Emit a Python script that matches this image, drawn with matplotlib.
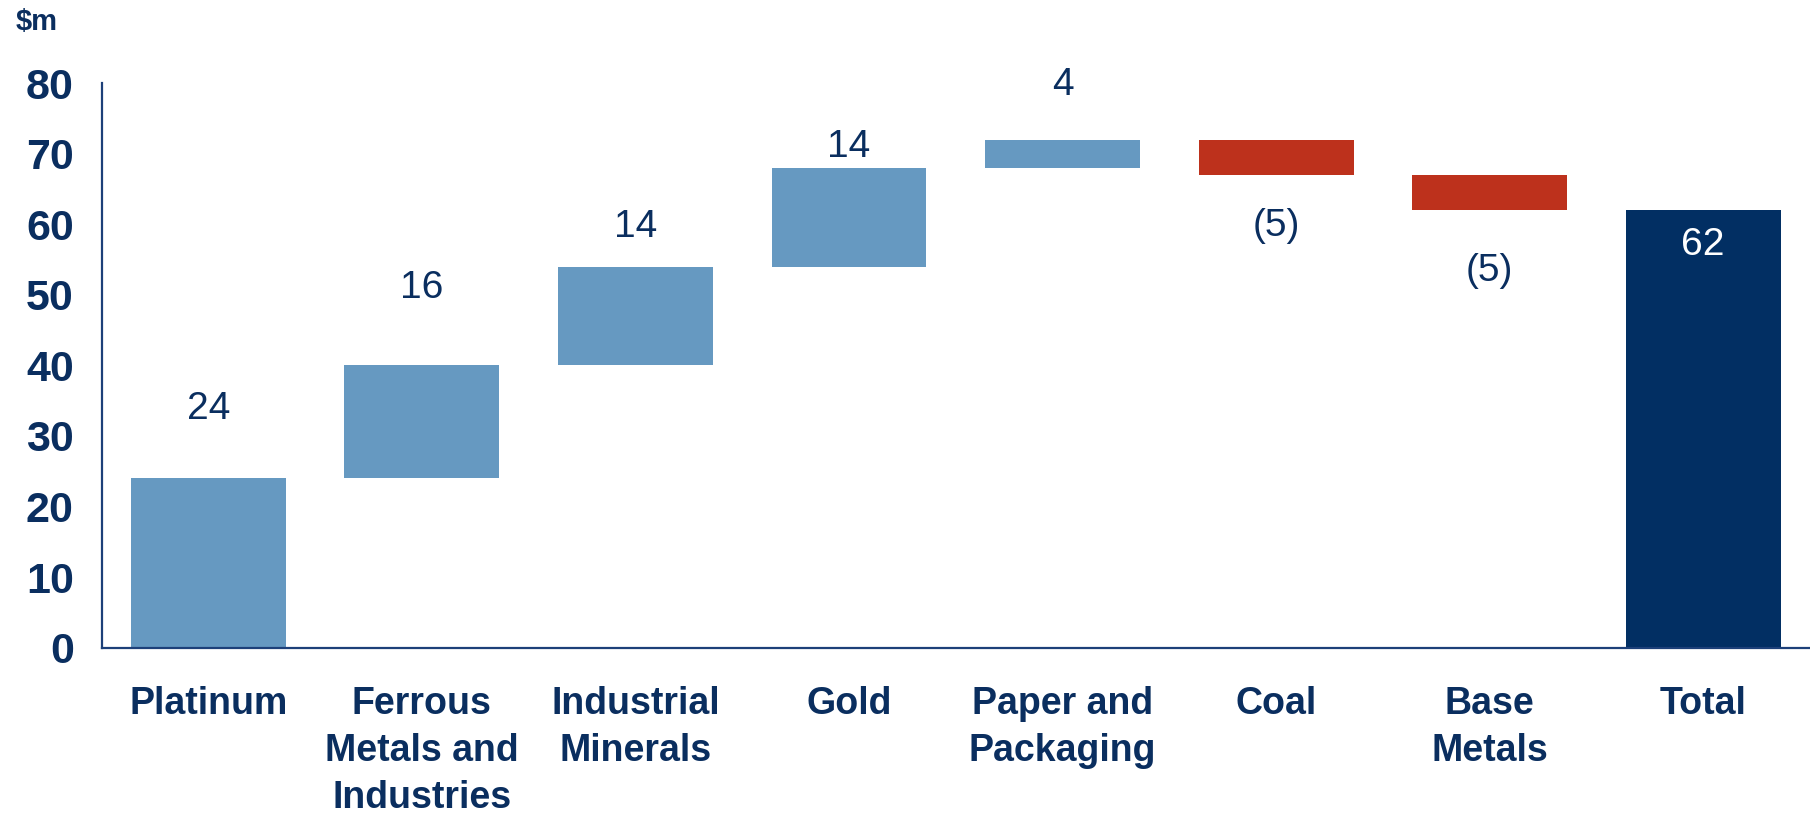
#!/usr/bin/env python3
"""Waterfall of $m contribution by business unit."""

import matplotlib

matplotlib.use("Agg")
import matplotlib.pyplot as plt
import numpy as np

categories = [
    "Platinum",
    "Ferrous\nMetals and\nIndustries",
    "Industrial\nMinerals",
    "Gold",
    "Paper and\nPackaging",
    "Coal",
    "Base\nMetals",
    "Total",
]
changes = [24, 16, 14, 14, 4, -5, -5]
total = 62
value_labels = ["24", "16", "14", "14", "4", "(5)", "(5)", "62"]
# distance of each value label from the bar end it sits next to (in $m)
label_offset = [9.8, 11.0, 5.6, 3.0, 7.7, 7.2, 8.7, 5.0]
y_ticks = [0, 10, 20, 30, 40, 50, 60, 70, 80]

NAVY = "#022f63"
TEXT = "#0a2e5f"
UP = "#6699c1"
DOWN = "#bd311c"

plt.rcParams["font.family"] = ["Liberation Sans", "DejaVu Sans"]

fig = plt.figure(figsize=(18.10, 8.16), dpi=100)
ax = fig.add_axes([0.0561, 0.2064, 0.9439, 0.6918])

x = np.arange(len(categories))
ends = np.cumsum(changes)
starts = ends - np.array(changes)
bottoms = list(np.minimum(starts, ends)) + [0]
heights = list(np.abs(changes)) + [total]
colors = [UP if c > 0 else DOWN for c in changes] + [NAVY]

ax.bar(x, heights, bottom=bottoms, width=0.725, color=colors, linewidth=0, zorder=2)

for i, text in enumerate(value_labels):
    if i == len(changes):
        y = total - label_offset[i]
        color = "white"
    elif changes[i] > 0:
        y = ends[i] + label_offset[i]
        color = TEXT
    else:
        y = ends[i] - label_offset[i]
        color = TEXT
    ax.text(x[i], y, text, ha="center", va="center", fontsize=28, color=color)

ax.set_xlim(-0.5, len(categories) - 0.5)
ax.set_ylim(0, 80)
ax.set_yticks(y_ticks)
ax.set_yticklabels([str(t) for t in y_ticks], fontsize=31, fontweight="bold", color=TEXT)
ax.set_xticks(x)
ax.set_xticklabels(categories, fontsize=27, fontweight="bold", color=TEXT, linespacing=1.38)
ax.tick_params(axis="y", length=0, pad=20)
ax.tick_params(axis="x", length=0, pad=28)

for side in ["top", "right"]:
    ax.spines[side].set_visible(False)
for side in ["left", "bottom"]:
    ax.spines[side].set_color("#1d4079")
    ax.spines[side].set_linewidth(1.6)

fig.text(0.0204, 0.973, "$m", ha="center", va="center", fontsize=21,
         fontweight="bold", color=TEXT)

fig.savefig("out.png", dpi=100)
plt.close(fig)
